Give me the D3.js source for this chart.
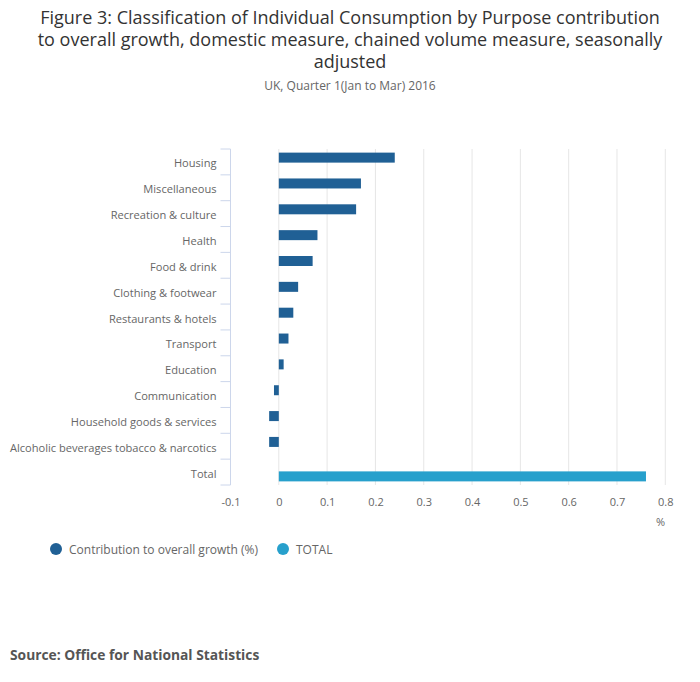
<!DOCTYPE html>
<html>
<head>
<meta charset="utf-8">
<script src="https://cdnjs.cloudflare.com/ajax/libs/d3/7.8.5/d3.min.js"></script>
<style>
  body { margin: 0; background: #fff; font-family: "Open Sans", sans-serif; }
</style>
</head>
<body>
<div id="chart"></div>
<script>
const categories = [
  "Housing", "Miscellaneous", "Recreation & culture", "Health", "Food & drink",
  "Clothing & footwear", "Restaurants & hotels", "Transport", "Education",
  "Communication", "Household goods & services",
  "Alcoholic beverages tobacco & narcotics", "Total"
];
const contribution = [0.24, 0.17, 0.16, 0.08, 0.07, 0.04, 0.03, 0.02, 0.01, -0.01, -0.02, -0.02, null];
const totalSeries = [null, null, null, null, null, null, null, null, null, null, null, null, 0.76];
const xTicks = [-0.1, 0, 0.1, 0.2, 0.3, 0.4, 0.5, 0.6, 0.7, 0.8];
const seriesNames = ["Contribution to overall growth (%)", "TOTAL"];
const colors = ["#206095", "#27a0cc"];

const width = 700;
const height = 682;
const plot = { left: 230.5, right: 665.3, top: 149, bottom: 485 };

const svg = d3.select("#chart")
  .append("svg")
  .attr("width", width)
  .attr("height", height);

// title
const title = [
  "Figure 3: Classification of Individual Consumption by Purpose contribution",
  "to overall growth, domestic measure, chained volume measure, seasonally",
  "adjusted"
];
svg.append("g").selectAll("text")
  .data(title)
  .join("text")
  .attr("x", width / 2)
  .attr("y", (d, i) => 24 + i * 21.8)
  .attr("text-anchor", "middle")
  .attr("font-size", 18)
  .attr("fill", "#333")
  .text(d => d);

svg.append("text")
  .attr("x", width / 2)
  .attr("y", 90)
  .attr("text-anchor", "middle")
  .attr("font-size", 12)
  .attr("fill", "#666")
  .text("UK, Quarter 1(Jan to Mar) 2016");

const xScale = d3.scaleLinear()
  .domain([-0.1, 0.8])
  .range([plot.left, plot.right]);

const yScale = d3.scaleBand()
  .domain(categories)
  .range([plot.top, plot.bottom]);

const subScale = d3.scaleBand()
  .domain([0, 1])
  .range([0, yScale.bandwidth()])
  .paddingOuter(0.5);

// gridlines
svg.append("g").selectAll("line")
  .data(xTicks.filter(t => t > -0.1))
  .join("line")
  .attr("x1", d => xScale(d))
  .attr("x2", d => xScale(d))
  .attr("y1", plot.top)
  .attr("y2", plot.bottom)
  .attr("stroke", "#e6e6e6")
  .attr("stroke-width", 1);

// x axis labels (plain hyphen for negatives, like the original)
const xAxis = svg.append("g")
  .attr("transform", `translate(0,${plot.bottom})`)
  .call(d3.axisBottom(xScale).tickValues(xTicks).tickSize(0).tickPadding(13)
    .tickFormat(d => String(+d.toFixed(1))));
xAxis.select(".domain").remove();
xAxis.selectAll("text")
  .attr("font-family", "Open Sans, sans-serif")
  .attr("font-size", 11)
  .attr("fill", "#666");

svg.append("text")
  .attr("x", 665)
  .attr("y", 526)
  .attr("text-anchor", "end")
  .attr("font-size", 11)
  .attr("fill", "#666")
  .text("%");

// y axis
const yAxis = svg.append("g")
  .attr("transform", `translate(${plot.left},0)`)
  .call(d3.axisLeft(yScale).tickSize(0).tickPadding(14));
yAxis.select(".domain")
  .attr("stroke", "#ccd6eb")
  .attr("d", `M0,${plot.top}V${plot.bottom}`);
yAxis.selectAll("text")
  .attr("font-family", "Open Sans, sans-serif")
  .attr("font-size", 11.1)
  .attr("fill", "#666")
  .attr("dy", "0.5em");
// band boundary ticks
yAxis.append("g").selectAll("line")
  .data(d3.range(categories.length + 1))
  .join("line")
  .attr("x1", -10)
  .attr("x2", 0)
  .attr("y1", i => plot.top + i * yScale.bandwidth())
  .attr("y2", i => plot.top + i * yScale.bandwidth())
  .attr("stroke", "#ccd6eb");

// bars
const series = [contribution, totalSeries];
const barH = 10;
series.forEach((vals, s) => {
  svg.append("g").selectAll("rect")
    .data(categories.map((c, i) => ({ c, v: vals[i] })).filter(d => d.v !== null))
    .join("rect")
    .attr("x", d => xScale(Math.min(0, d.v)))
    .attr("width", d => Math.abs(xScale(d.v) - xScale(0)))
    .attr("y", d => yScale(d.c) + subScale(s) + (subScale.bandwidth() - barH) / 2)
    .attr("height", barH)
    .attr("fill", colors[s]);
});

// legend
const legendX = [56, 283];
const legend = svg.append("g").selectAll("g")
  .data(seriesNames)
  .join("g")
  .attr("transform", (d, i) => `translate(${legendX[i]},549)`);
legend.append("circle")
  .attr("r", 6)
  .attr("fill", (d, i) => colors[i]);
legend.append("text")
  .attr("x", 13)
  .attr("y", 4.5)
  .attr("font-size", 12)
  .attr("fill", "#666")
  .text(d => d);

svg.append("text")
  .attr("x", 10)
  .attr("y", 660)
  .attr("font-size", 13.8)
  .attr("font-weight", "bold")
  .attr("fill", "#555")
  .text("Source: Office for National Statistics");
</script>
</body>
</html>
